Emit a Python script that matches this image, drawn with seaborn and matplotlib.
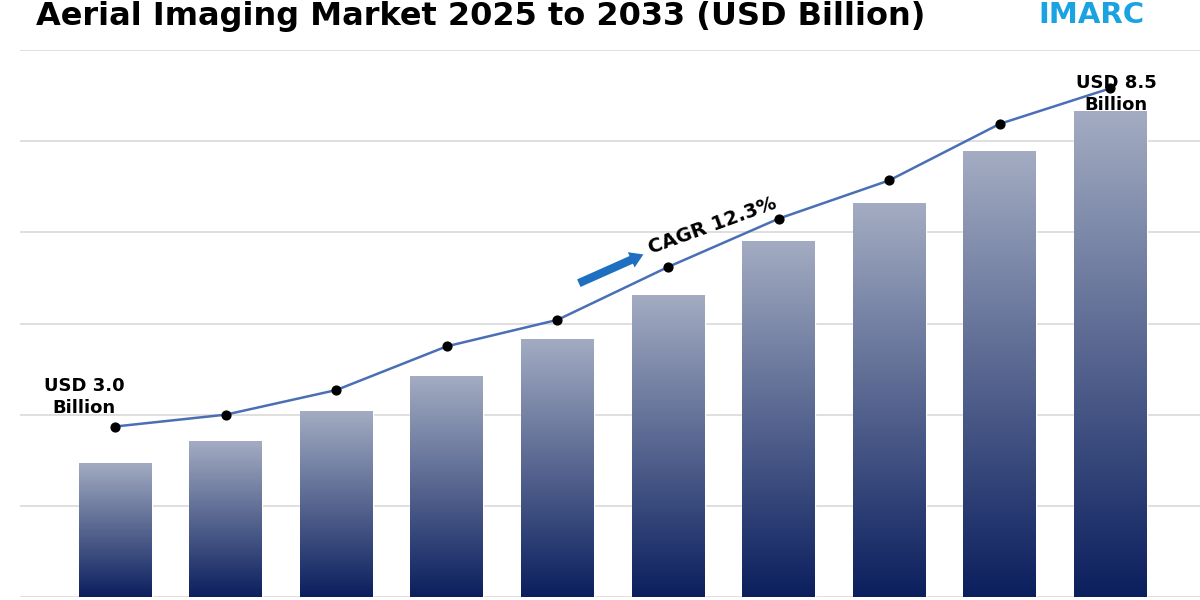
import numpy as np
import matplotlib
matplotlib.use("Agg")
import matplotlib.pyplot as plt
import seaborn as sns

years = ["2024", "2025", "2026", "2027", "2028", "2029", "2030", "2031", "2032", "2033"]
bar_vals = [1.47, 1.71, 2.04, 2.42, 2.83, 3.31, 3.91, 4.32, 4.89, 5.33]
line_vals = [1.87, 2.00, 2.27, 2.75, 3.04, 3.62, 4.15, 4.57, 5.19, 5.58]

sns.set_theme(style="white")
plt.rcParams['font.family'] = ['DejaVu Sans']
plt.rcParams['text.color'] = 'black'

fig = plt.figure(figsize=(12, 6), dpi=100)
ax = fig.add_axes([20/1200, 3/600, 1180/1200, 547/600])

x = np.arange(len(years))
sns.barplot(x=x, y=bar_vals, ax=ax, width=0.66, color="#1a2f6a", zorder=2)

# vertical gradient inside each bar
grad = np.linspace(0, 1, 256).reshape(-1, 1)
cmap = matplotlib.colors.LinearSegmentedColormap.from_list("g", ["#0b1f5e", "#a3acc2"])
for p in list(ax.patches):
    bx, by = p.get_x(), p.get_y()
    w, h = p.get_width(), p.get_height()
    im = ax.imshow(grad, cmap=cmap, origin="lower", aspect="auto",
                   extent=[bx, bx + w, by, by + h], zorder=3)
    im.set_clip_path(p)

ax.plot(x, line_vals, color="#4a6fb5", lw=1.8, zorder=4)
ax.scatter(x, line_vals, color="black", s=40, zorder=5)

ax.set_xlim(-0.86, 9.81)
ax.set_ylim(0, 6)
ax.set_yticks(np.arange(0, 7, 1))
ax.yaxis.grid(True, color="#d9d9d9", lw=1.2)
ax.set_yticklabels([])
ax.set_xticks([])
ax.tick_params(left=False, bottom=False)
for s in ax.spines.values():
    s.set_visible(False)
ax.set_autoscale_on(False)

ax.text(-0.28, line_vals[0] + 0.1, "USD 3.0\nBillion", fontsize=13, fontweight="bold",
        ha="center", va="bottom", linespacing=1.3, zorder=6)
ax.text(9.05, line_vals[-1] - 0.28, "USD 8.5\nBillion", fontsize=13, fontweight="bold",
        ha="center", va="bottom", linespacing=1.3, zorder=6)

ax.annotate("", xy=(4.8, 3.77), xytext=(4.17, 3.43),
            arrowprops=dict(arrowstyle="simple,head_width=1.0,head_length=0.8,tail_width=0.5",
                            color="#1f6fc0", lw=0), zorder=6)
ax.text(4.8, 3.72, "CAGR 12.3%", fontsize=14, fontweight="bold", rotation=20,
        ha="left", va="bottom", zorder=6)

fig.text(0.03, 0.998, "Aerial Imaging Market 2025 to 2033 (USD Billion)", fontsize=23,
         fontweight="bold", ha="left", va="top")
fig.text(0.865, 0.998, "IMARC", fontsize=21, fontweight="bold", color="#1aa3e0",
         ha="left", va="top")

fig.savefig("out.png", dpi=100)
